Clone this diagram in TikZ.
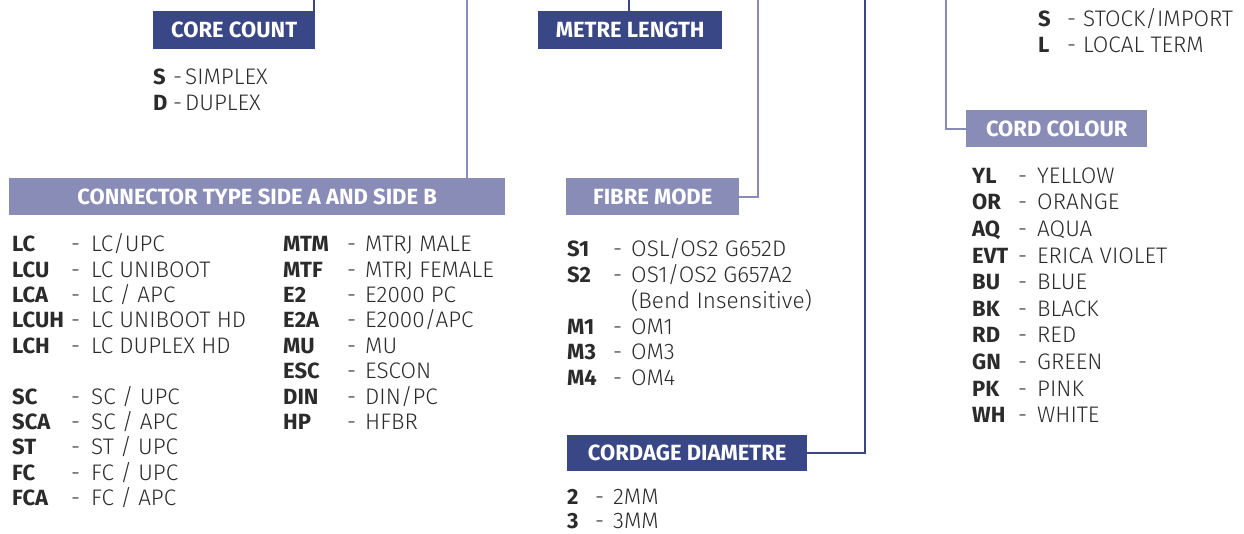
\documentclass[tikz,border=0pt]{standalone}
\usepackage{fontspec}
\setmainfont{Fira Sans}
\newfontfamily\lightfont{Fira Sans Light}
\usetikzlibrary{calc}

\definecolor{darkbar}{HTML}{3A4786}
\definecolor{lightbar}{HTML}{8A8CB8}
\definecolor{ink}{HTML}{2B2B2B}

\begin{document}
\begin{tikzpicture}[x=1pt,y=-1pt,
    head/.style={anchor=north west,inner sep=0pt,text=white,
      font=\fontsize{22}{26}\selectfont\bfseries,text height=15pt,text depth=0pt},
    darkhead/.style={head,fill=darkbar},
    lighthead/.style={head,fill=lightbar},
    code/.style={anchor=base west,inner sep=0pt,text=ink,text depth=0pt,
      font=\fontsize{22}{26}\selectfont\bfseries},
    desc/.style={anchor=base west,inner sep=0pt,text=ink,text depth=0pt,
      font=\fontsize{22.5}{26}\lightfont},
    link/.style={line width=2pt}]
  \useasboundingbox (0,0) rectangle (1244,533);

  % header bars
  \node[darkhead,minimum width=162pt,minimum height=38pt] (core) at (153,11) {CORE COUNT};
  \node[darkhead,minimum width=184pt,minimum height=38pt] (metre) at (538,11) {METRE LENGTH};
  \node[lighthead,minimum width=496pt,minimum height=37pt] (conn) at (9,178) {CONNECTOR TYPE SIDE A AND SIDE B};
  \node[lighthead,minimum width=173pt,minimum height=37pt] (fibre) at (566,178) {FIBRE MODE};
  \node[darkhead,minimum width=240pt,minimum height=36pt] (cordage) at (567,435) {CORDAGE DIAMETRE};
  \node[lighthead,minimum width=181pt,minimum height=37pt] (colour) at (966,110) {CORD COLOUR};

  % leads coming in from the top edge
  \coordinate (coretop) at (314,0);
  \coordinate (conntop) at (467,0);
  \coordinate (metretop) at (629,0);
  \coordinate (fibretop) at (758,0);
  \coordinate (cordagetop) at (865,0);
  \coordinate (colourtop) at (946,0);

  \draw[link,darkbar] (coretop) -- (coretop |- core.north);
  \draw[link,lightbar] (conntop) -- (conntop |- conn.north);
  \draw[link,darkbar] (metretop) -- (metretop |- metre.north);
  \draw[link,lightbar] (fibretop) |- (fibre.east);
  \draw[link,darkbar] (cordagetop) |- (cordage.east);
  \draw[link,lightbar] (colourtop) |- (colour.west);

  % core count
  \foreach \c/\d [count=\i from 0] in {S/SIMPLEX,D/DUPLEX} {
    \node[code] (cc\i) at (153,84.3+25.7*\i) {\c};
    \node[desc] (cm\i) at (173,84.3+25.7*\i) {-};
    \node[desc] (ct\i) at (185,84.3+25.7*\i) {\d};
  }

  % stock / local
  \foreach \c/\d [count=\i from 0] in {S/{STOCK/IMPORT},L/{LOCAL TERM}} {
    \node[code] (sc\i) at (1038,26.7+25.6*\i) {\c};
    \node[desc] (sm\i) at (1067,26.7+25.6*\i) {-};
    \node[desc] (st\i) at (1083,26.7+25.6*\i) {\d};
  }

  % connector types
  \foreach \c/\d [count=\i from 0] in {LC/{LC/UPC},LCU/{LC UNIBOOT},LCA/{LC / APC},
      LCUH/{LC UNIBOOT HD},LCH/{LC DUPLEX HD}} {
    \node[code] (lc\i) at (12,251.7+25.4*\i) {\c};
    \node[desc] (lm\i) at (71,251.7+25.4*\i) {-};
    \node[desc] (lt\i) at (91,251.7+25.4*\i) {\d};
  }
  \foreach \c/\d [count=\i from 6] in {SC/{SC / UPC},SCA/{SC / APC},ST/{ST / UPC},
      FC/{FC / UPC},FCA/{FC / APC}} {
    \node[code] (lc\i) at (12,251.7+25.4*\i) {\c};
    \node[desc] (lm\i) at (71,251.7+25.4*\i) {-};
    \node[desc] (lt\i) at (91,251.7+25.4*\i) {\d};
  }
  \foreach \c/\d [count=\i from 0] in {MTM/{MTRJ MALE},MTF/{MTRJ FEMALE},E2/{E2000 PC},
      E2A/{E2000/APC},MU/MU,ESC/ESCON,DIN/{DIN/PC},HP/HFBR} {
    \node[code] (rc\i) at (283,251.7+25.4*\i) {\c};
    \node[desc] (rm\i) at (347,251.7+25.4*\i) {-};
    \node[desc] (rt\i) at (365,251.7+25.4*\i) {\d};
  }

  % fibre mode
  \foreach \c/\d [count=\i from 0] in {S1/{OSL/OS2 G652D},S2/{OS1/OS2 G657A2},
      /{(Bend Insensitive)},M1/OM1,M3/OM3,M4/OM4} {
    \node[code] (fc\i) at (567,256.7+25.8*\i) {\c};
    \node[desc] (fm\i) at (613,256.7+25.8*\i) {\ifx\c\empty\else-\fi};
    \node[desc] (ft\i) at (631,256.7+25.8*\i) {\d};
  }

  % cordage diameter
  \foreach \c/\d [count=\i from 0] in {2/2MM,3/3MM} {
    \node[code] (dc\i) at (567,504.3+24.2*\i) {\c};
    \node[desc] (dm\i) at (595,504.3+24.2*\i) {-};
    \node[desc] (dt\i) at (613,504.3+24.2*\i) {\d};
  }

  % cord colour
  \foreach \c/\d [count=\i from 0] in {YL/YELLOW,OR/ORANGE,AQ/AQUA,EVT/{ERICA VIOLET},
      BU/BLUE,BK/BLACK,RD/RED,GN/GREEN,PK/PINK,WH/WHITE} {
    \node[code] (kc\i) at (972,183.3+26.6*\i) {\c};
    \node[desc] (km\i) at (1018,183.3+26.6*\i) {-};
    \node[desc] (kt\i) at (1037,183.3+26.6*\i) {\d};
  }
\end{tikzpicture}
\end{document}
